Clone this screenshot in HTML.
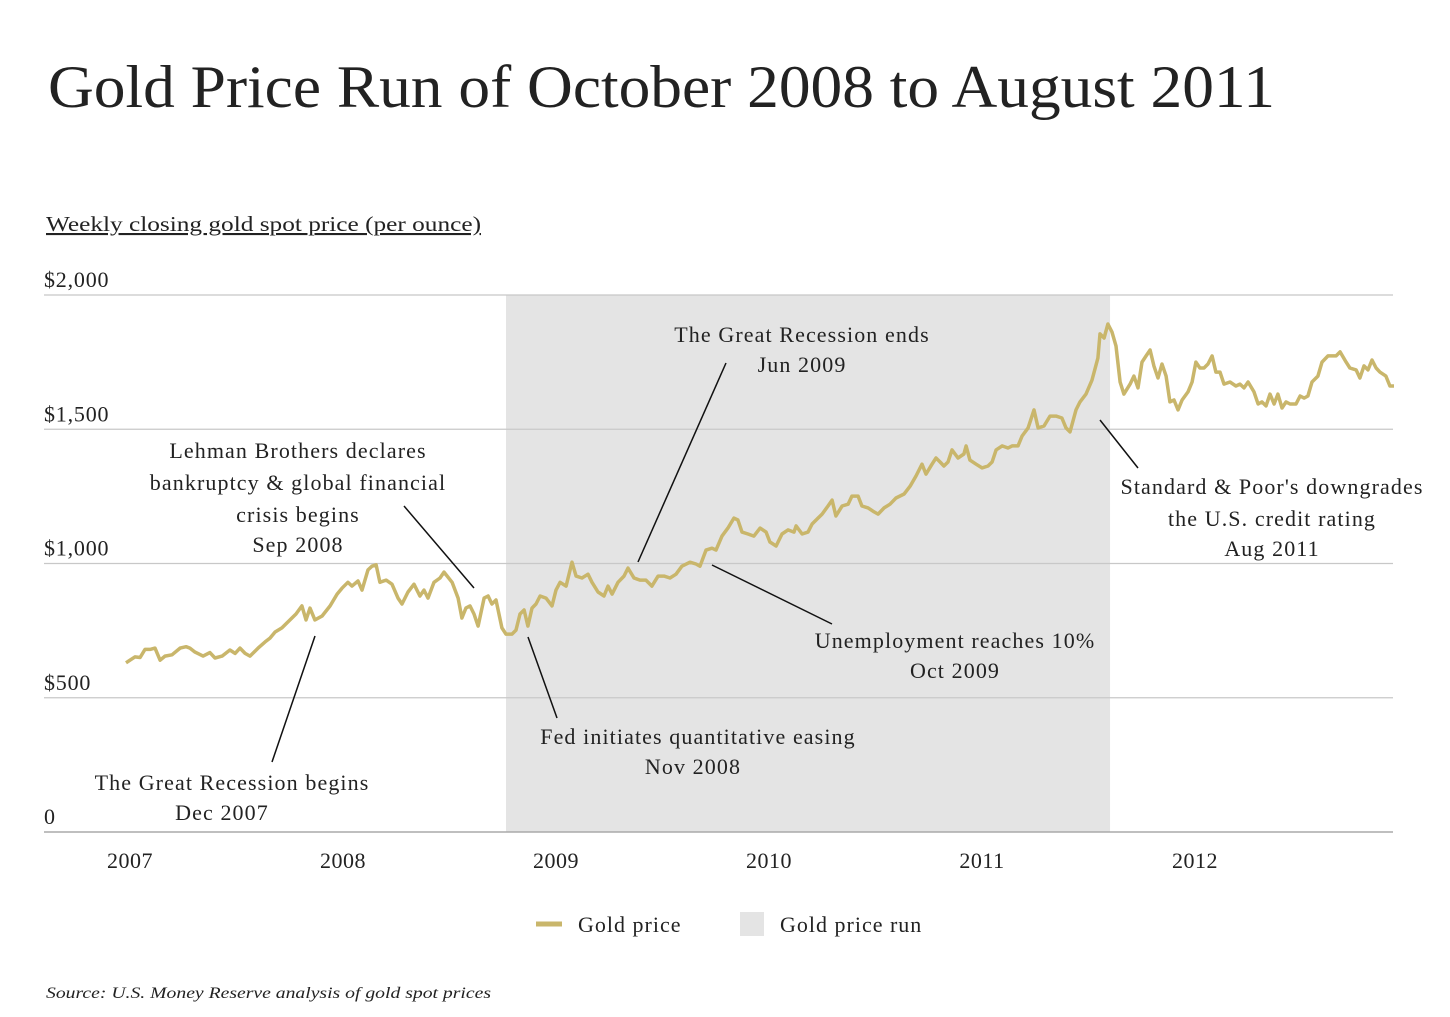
<!DOCTYPE html>
<html><head><meta charset="utf-8">
<style>
body{margin:0;background:#fff;width:1450px;height:1012px;overflow:hidden;font-family:"Liberation Serif",serif;color:#222}
svg text{font-family:"Liberation Serif",serif;fill:#222}
</style></head>
<body>
<svg id="chart" width="1450" height="1012" xmlns="http://www.w3.org/2000/svg">
<text x="48" y="107" font-size="60" textLength="1227" lengthAdjust="spacingAndGlyphs">Gold Price Run of October 2008 to August 2011</text>
<text x="46" y="231" font-size="21" text-decoration="underline" textLength="435" lengthAdjust="spacingAndGlyphs">Weekly closing gold spot price (per ounce)</text>
<g id="shade"></g><g id="grid"></g><g id="yl"></g><g id="xl"></g><g id="series"></g>
<g font-size="22" letter-spacing="1.1" text-anchor="middle" stroke="none">
<line x1="404" y1="506" x2="474" y2="588" stroke="#111" stroke-width="1.5"/>
<line x1="272" y1="762" x2="315" y2="636" stroke="#111" stroke-width="1.5"/>
<line x1="528" y1="637" x2="557" y2="718" stroke="#111" stroke-width="1.5"/>
<line x1="726" y1="363" x2="638" y2="562" stroke="#111" stroke-width="1.5"/>
<line x1="712" y1="565" x2="832" y2="624" stroke="#111" stroke-width="1.5"/>
<line x1="1100" y1="420" x2="1138" y2="468" stroke="#111" stroke-width="1.5"/>
<text x="298" y="458">Lehman Brothers declares</text>
<text x="298" y="490">bankruptcy &amp; global financial</text>
<text x="298" y="522">crisis begins</text>
<text x="298" y="552">Sep 2008</text>
<text x="232" y="790">The Great Recession begins</text>
<text x="222" y="820">Dec 2007</text>
<text x="698" y="744">Fed initiates quantitative easing</text>
<text x="693" y="774">Nov 2008</text>
<text x="802" y="342">The Great Recession ends</text>
<text x="802" y="372">Jun 2009</text>
<text x="955" y="648">Unemployment reaches 10%</text>
<text x="955" y="678">Oct 2009</text>
<text x="1272" y="494">Standard &amp; Poor's downgrades</text>
<text x="1272" y="526">the U.S. credit rating</text>
<text x="1272" y="556">Aug 2011</text>
</g>
<g font-size="22" letter-spacing="1">
<line x1="536" y1="924" x2="562" y2="924" stroke="#c9b66b" stroke-width="5"/>
<text x="578" y="932">Gold price</text>
<rect x="740" y="912" width="24" height="24" fill="#e4e4e4"/>
<text x="780" y="932">Gold price run</text>
</g>
<text x="46" y="998" font-size="16" font-style="italic" textLength="445" lengthAdjust="spacingAndGlyphs">Source: U.S. Money Reserve analysis of gold spot prices</text>
</svg>
<script>
const yearsSince2007=[0,.042,.066,.089,.113,.136,.160,.183,.216,.254,.282,.300,.324,.362,.394,.418,.451,.488,.512,.535,.559,.582,.620,.653,.676,.700,.732,.770,.798,.826,.845,.864,.887,.920,.958,.991,1.014,1.042,1.061,1.089,1.108,1.136,1.155,1.174,1.192,1.221,1.249,1.277,1.296,1.324,1.352,1.380,1.399,1.418,1.446,1.474,1.493,1.531,1.559,1.577,1.596,1.615,1.634,1.653,1.681,1.700,1.718,1.737,1.765,1.784,1.812,1.831,1.850,1.869,1.887,1.906,1.925,1.944,1.972,2.000,2.019,2.038,2.066,2.094,2.113,2.141,2.169,2.188,2.216,2.244,2.263,2.282,2.310,2.338,2.357,2.385,2.413,2.441,2.469,2.498,2.526,2.554,2.582,2.610,2.648,2.676,2.695,2.723,2.751,2.770,2.798,2.826,2.854,2.873,2.892,2.920,2.948,2.977,3.005,3.023,3.052,3.080,3.108,3.136,3.146,3.174,3.202,3.221,3.249,3.268,3.296,3.315,3.333,3.362,3.390,3.408,3.437,3.455,3.484,3.512,3.531,3.559,3.587,3.615,3.653,3.681,3.709,3.737,3.756,3.784,3.803,3.822,3.840,3.859,3.878,3.906,3.934,3.944,3.962,3.991,4.019,4.047,4.066,4.085,4.113,4.141,4.160,4.188,4.207,4.235,4.263,4.282,4.310,4.338,4.366,4.394,4.413,4.432,4.460,4.479,4.507,4.535,4.563,4.573,4.592,4.610,4.629,4.648,4.667,4.685,4.714,4.732,4.751,4.770,4.789,4.808,4.826,4.845,4.864,4.883,4.901,4.920,4.939,4.958,4.986,5.005,5.023,5.042,5.061,5.080,5.099,5.117,5.136,5.155,5.183,5.211,5.230,5.249,5.268,5.296,5.315,5.333,5.352,5.371,5.390,5.408,5.427,5.446,5.465,5.493,5.512,5.531,5.549,5.568,5.596,5.615,5.643,5.662,5.681,5.700,5.728,5.746,5.775,5.793,5.812,5.831,5.850,5.869,5.887,5.915,5.934,5.953];
const goldPrice=[630,652,650,680,680,685,640,655,660,685,690,685,670,655,668,648,655,678,665,685,665,655,685,708,722,745,760,790,812,842,790,834,790,804,842,886,908,930,916,935,901,976,990,995,930,938,923,871,849,894,923,879,901,871,930,946,968,930,871,797,834,842,812,767,871,879,849,864,760,737,737,752,812,827,767,834,849,879,871,842,901,930,916,1005,953,946,960,930,894,879,916,886,930,953,983,946,938,938,916,953,953,946,960,990,1005,998,990,1050,1057,1050,1102,1132,1169,1162,1117,1110,1102,1132,1117,1080,1065,1110,1125,1117,1140,1110,1117,1147,1169,1184,1214,1236,1177,1214,1221,1251,1251,1214,1207,1192,1184,1207,1221,1244,1259,1288,1326,1370,1333,1370,1393,1378,1363,1378,1423,1393,1408,1438,1385,1370,1356,1363,1378,1423,1438,1430,1438,1438,1475,1505,1572,1505,1512,1549,1549,1542,1505,1490,1572,1602,1631,1683,1765,1855,1840,1892,1862,1810,1676,1631,1668,1698,1654,1750,1773,1795,1736,1691,1743,1698,1602,1609,1572,1609,1639,1676,1750,1728,1728,1743,1773,1713,1713,1668,1676,1661,1668,1654,1676,1639,1594,1602,1587,1631,1594,1631,1579,1602,1594,1594,1624,1616,1624,1676,1698,1750,1773,1773,1773,1788,1750,1728,1721,1691,1736,1721,1758,1728,1713,1698,1661,1661];
const yTicks=[0,500,1000,1500,2000];
const yTickLabels=["0","$500","$1,000","$1,500","$2,000"];
const xTicks=[2007,2008,2009,2010,2011,2012];
const runStart=1.784, runEnd=4.620;

const NS="http://www.w3.org/2000/svg";
const X=t=>126+t*213;
const Y=v=>832-v*0.2685;
function mk(tag,attrs,parent){const e=document.createElementNS(NS,tag);for(const k in attrs)e.setAttribute(k,attrs[k]);parent.appendChild(e);return e;}

const sh=mk('rect',{x:X(runStart),y:Y(2000),width:X(runEnd)-X(runStart),height:Y(0)-Y(2000),fill:'#e4e4e4'},document.getElementById('shade'));



const g=document.getElementById('grid'),yl=document.getElementById('yl'),xl=document.getElementById('xl');
yTicks.forEach((v,i)=>{
  const l=mk('line',{x1:44,x2:1393,y1:Y(v),y2:Y(v),stroke:v===0?'#aaa':'#c8c8c8','stroke-width':v===0?1.5:1.2},g);
  
  
  const t=mk('text',{x:44,y:Y(v)-8,'font-size':22,'letter-spacing':0.8},yl);t.textContent=yTickLabels[i];
  
  
});
xTicks.forEach(yr=>{
  const t=mk('text',{x:X(yr-2007)+4,y:868,'font-size':22,'letter-spacing':0.5,'text-anchor':'middle'},xl);t.textContent=yr;
  
  
});
const n=Math.min(yearsSince2007.length,goldPrice.length);
let d='';for(let i=0;i<n;i++)d+=(i?'L':'M')+X(yearsSince2007[i]).toFixed(1)+','+Y(goldPrice[i]).toFixed(1);
const p=mk('path',{d:d,fill:'none',stroke:'#c9b66b','stroke-width':3.5,'stroke-linejoin':'round'},document.getElementById('series'));


</script>
</body></html>
